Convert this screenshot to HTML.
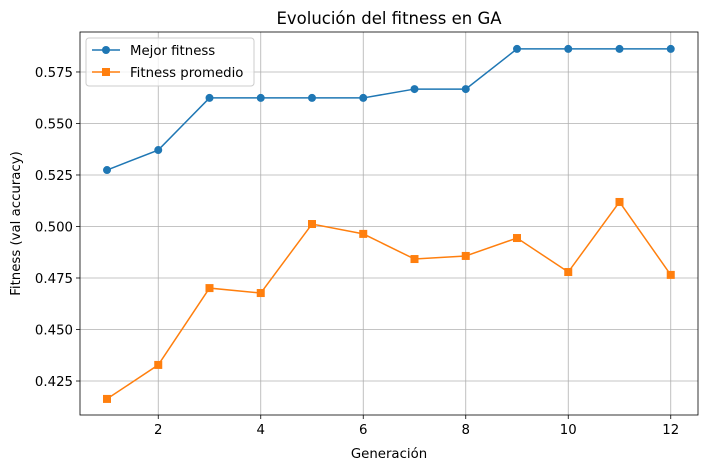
<!DOCTYPE html>
<html><head><meta charset="utf-8">
<style>
body{margin:0;background:#fff;font-family:"DejaVu Sans","Liberation Sans",sans-serif;}
svg text{font-family:"DejaVu Sans","Liberation Sans",sans-serif;}
</style></head>
<body>
<svg id="chart" width="708" height="470" xmlns="http://www.w3.org/2000/svg"></svg>
<script>
const generations=[1,2,3,4,5,6,7,8,9,10,11,12];
const bestFitness=[0.5274,0.5371,0.5624,0.5624,0.5624,0.5624,0.5667,0.5667,0.5862,0.5862,0.5862,0.5862];
const avgFitness=[0.4163,0.4328,0.4701,0.4677,0.5012,0.4964,0.4842,0.4857,0.4944,0.4779,0.5119,0.4765];
const xTicks=[2,4,6,8,10,12];
const yTicks=[0.425,0.450,0.475,0.500,0.525,0.550,0.575];

const L=80,R=698,T=32,B=415;
const yMin=0.4085,yMax=0.5944;
const sx=v=>107+(v-1)*51.25;
const sy=v=>B-(v-yMin)/(yMax-yMin)*(B-T);
const NS="http://www.w3.org/2000/svg";
const svg=document.getElementById('chart');
function el(tag,attrs,parent){const e=document.createElementNS(NS,tag);for(const k in attrs)e.setAttribute(k,attrs[k]);(parent||svg).appendChild(e);return e;}

xTicks.forEach(t=>{
  const g=el('line',{x1:sx(t),x2:sx(t),y1:T,y2:B,stroke:'#b0b0b0','stroke-width':0.8});
  
  
  const tk=el('line',{x1:sx(t),x2:sx(t),y1:B,y2:B+4,stroke:'#000','stroke-width':0.8});
  
  
  const tx=el('text',{x:sx(t),y:B+19,'text-anchor':'middle','font-size':13.3});
  tx.textContent=t;
  
  
});
yTicks.forEach(t=>{
  const g=el('line',{x1:L,x2:R,y1:sy(t),y2:sy(t),stroke:'#b0b0b0','stroke-width':0.8});
  
  
  const tk=el('line',{x1:L-4,x2:L,y1:sy(t),y2:sy(t),stroke:'#000','stroke-width':0.8});
  
  
  const tx=el('text',{x:L-7,y:sy(t)+5,'text-anchor':'end','font-size':13.3});
  tx.textContent=t.toFixed(3);
  
  
});

function series(vals,color,marker,name){
  const pts=generations.map((g,i)=>sx(g)+','+sy(vals[i])).join(' ');
  const pl=el('polyline',{points:pts,fill:'none',stroke:color,'stroke-width':1.5});
  
  
  generations.forEach((g,i)=>{
    let m;
    if(marker==='o') m=el('circle',{cx:sx(g),cy:sy(vals[i]),r:4,fill:color});
    else m=el('rect',{x:sx(g)-4,y:sy(vals[i])-4,width:8,height:8,fill:color});
    
    
  });
}
series(bestFitness,'#1f77b4','o','best-fitness');
series(avgFitness,'#ff7f0e','s','avg-fitness');

const fr=el('rect',{x:L,y:T,width:R-L,height:B-T,fill:'none',stroke:'#000','stroke-width':0.8});



const title=el('text',{x:(L+R)/2,y:24,'text-anchor':'middle','font-size':16.5});
title.textContent='Evolución del fitness en GA';


const xt=el('text',{x:(L+R)/2,y:458,'text-anchor':'middle','font-size':13.3});
xt.textContent='Generación';


const yt=el('text',{x:0,y:0,'text-anchor':'middle','font-size':13.3,transform:'translate(20,'+((T+B)/2)+') rotate(-90)'});
yt.textContent='Fitness (val accuracy)';



const lg=el('g',{});


el('rect',{x:86,y:38,width:168,height:48,rx:3,fill:'#fff','fill-opacity':0.8,stroke:'#ccc'},lg);
const entries=[['Mejor fitness','#1f77b4','o',50],['Fitness promedio','#ff7f0e','s',72]];
entries.forEach(e=>{
  const g=el('g',{},lg);
  
  
  el('line',{x1:92,x2:120,y1:e[3],y2:e[3],stroke:e[1],'stroke-width':1.5},g);
  if(e[2]==='o') el('circle',{cx:106,cy:e[3],r:4,fill:e[1]},g);
  else el('rect',{x:102,y:e[3]-4,width:8,height:8,fill:e[1]},g);
  const t=el('text',{x:130,y:e[3]+5,'font-size':13.3},g);
  t.textContent=e[0];
});
</script>
</body></html>
